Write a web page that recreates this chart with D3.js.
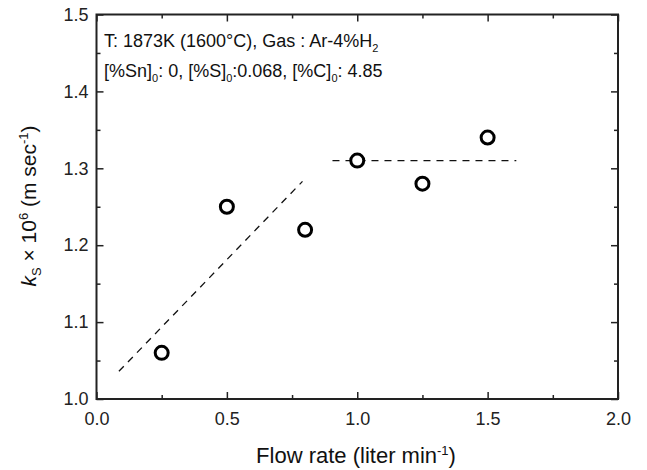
<!DOCTYPE html>
<html><head><meta charset="utf-8">
<script src="https://cdn.jsdelivr.net/npm/d3@7"></script>
<style>body{margin:0;background:#fff}svg{display:block;font-family:"Liberation Sans",Arial,sans-serif}</style>
</head><body>
<svg id="c" width="647" height="470"></svg>
<script>
const flowRate = [0.25, 0.5, 0.8, 1.0, 1.25, 1.5];
const ksValues = [1.06, 1.25, 1.22, 1.31, 1.28, 1.34];
const fitRising = [[0.086, 1.036], [0.79, 1.283]];
const fitPlateau = [[0.905, 1.31], [1.61, 1.31]];
const xTicks = [0.0, 0.5, 1.0, 1.5, 2.0];
const yTicks = [1.0, 1.1, 1.2, 1.3, 1.4, 1.5];
const xMinor = [0.25, 0.75, 1.25, 1.75];
const yMinor = [1.05, 1.15, 1.25, 1.35, 1.45];

const svg = d3.select("#c");
const L = 96.5, R = 618, T = 14.5, B = 399;
const x = d3.scaleLinear().domain([0, 2]).range([L, R]);
const y = d3.scaleLinear().domain([1.0, 1.5]).range([B, T]);
const ink = "#222";

const fmt = d3.format(".1f");
svg.append("g").attr("transform", `translate(0,${B})`)
  .call(d3.axisBottom(x).tickValues(xTicks).tickFormat(fmt).tickSizeInner(-7).tickSizeOuter(0).tickPadding(13))
  .call(g => g.selectAll("text").attr("font-size", 18).attr("fill", ink));
svg.append("g").attr("transform", `translate(${L},0)`)
  .call(d3.axisLeft(y).tickValues(yTicks).tickFormat(fmt).tickSizeInner(-7).tickSizeOuter(0).tickPadding(8))
  .call(g => g.selectAll("text").attr("font-size", 18).attr("fill", ink));
svg.append("g").attr("transform", `translate(0,${T})`)
  .call(d3.axisTop(x).tickValues(xTicks).tickFormat("").tickSizeInner(-7).tickSizeOuter(0));
svg.append("g").attr("transform", `translate(${R},0)`)
  .call(d3.axisRight(y).tickValues(yTicks).tickFormat("").tickSizeInner(-7).tickSizeOuter(0));
svg.append("g").attr("transform", `translate(0,${B})`)
  .call(d3.axisBottom(x).tickValues(xMinor).tickFormat("").tickSizeInner(-4).tickSizeOuter(0));
svg.append("g").attr("transform", `translate(0,${T})`)
  .call(d3.axisTop(x).tickValues(xMinor).tickFormat("").tickSizeInner(-4).tickSizeOuter(0));
svg.append("g").attr("transform", `translate(${L},0)`)
  .call(d3.axisLeft(y).tickValues(yMinor).tickFormat("").tickSizeInner(-4).tickSizeOuter(0));
svg.append("g").attr("transform", `translate(${R},0)`)
  .call(d3.axisRight(y).tickValues(yMinor).tickFormat("").tickSizeInner(-4).tickSizeOuter(0));
svg.selectAll(".domain").remove();
svg.selectAll(".tick line").attr("stroke", ink).attr("stroke-width", 1.5);

svg.append("rect").attr("x", L).attr("y", T).attr("width", R - L).attr("height", B - T)
  .attr("fill", "none").attr("stroke", ink).attr("stroke-width", 2);

const line = d3.line().x(d => x(d[0])).y(d => y(d[1]));
[fitRising, fitPlateau].forEach(p => svg.append("path").attr("d", line(p))
  .attr("fill", "none").attr("stroke", "#111").attr("stroke-width", 1.3).attr("stroke-dasharray", "7,6"));

svg.append("g").selectAll("circle").data(flowRate.map((f, i) => [f, ksValues[i]])).join("circle")
  .attr("cx", d => x(d[0])).attr("cy", d => y(d[1])).attr("r", 6.5)
  .attr("fill", "#fff").attr("stroke", "#000").attr("stroke-width", 3);

const ann = svg.append("g").attr("font-size", 18).attr("fill", "#111");
const t1 = ann.append("text").attr("x", 104).attr("y", 47);
t1.append("tspan").text("T: 1873K (1600°C), Gas : Ar-4%H");
t1.append("tspan").attr("font-size", 11).attr("dy", 5).text("2");
const t2 = ann.append("text").attr("x", 104).attr("y", 77);
const parts = [["[%Sn]", "0", ": 0, "], ["[%S]", "0", ":0.068, "], ["[%C]", "0", ": 4.85"]];
parts.forEach(p => {
  t2.append("tspan").text(p[0]);
  t2.append("tspan").attr("font-size", 11).attr("dy", 5).text(p[1]);
  t2.append("tspan").attr("dy", -5).text(p[2]);
});

const xl = svg.append("text").attr("x", 356).attr("y", 463).attr("text-anchor", "middle")
  .attr("font-size", 22).attr("fill", "#111");
xl.append("tspan").text("Flow rate (liter min");
xl.append("tspan").attr("font-size", 13).attr("dy", -8).text("-1");
xl.append("tspan").attr("dy", 8).text(")");

const yl = svg.append("text").attr("transform", "translate(36,206) rotate(-90)").attr("text-anchor", "middle")
  .attr("font-size", 21).attr("fill", "#111");
yl.append("tspan").attr("font-style", "italic").text("k");
yl.append("tspan").attr("font-size", 13).attr("dy", 5).text("S");
yl.append("tspan").attr("dy", -5).text(" × 10");
yl.append("tspan").attr("font-size", 13).attr("dy", -8).text("6");
yl.append("tspan").attr("dy", 8).text(" (m sec");
yl.append("tspan").attr("font-size", 13).attr("dy", -8).text("-1");
yl.append("tspan").attr("dy", 8).text(")");
</script>
</body></html>
